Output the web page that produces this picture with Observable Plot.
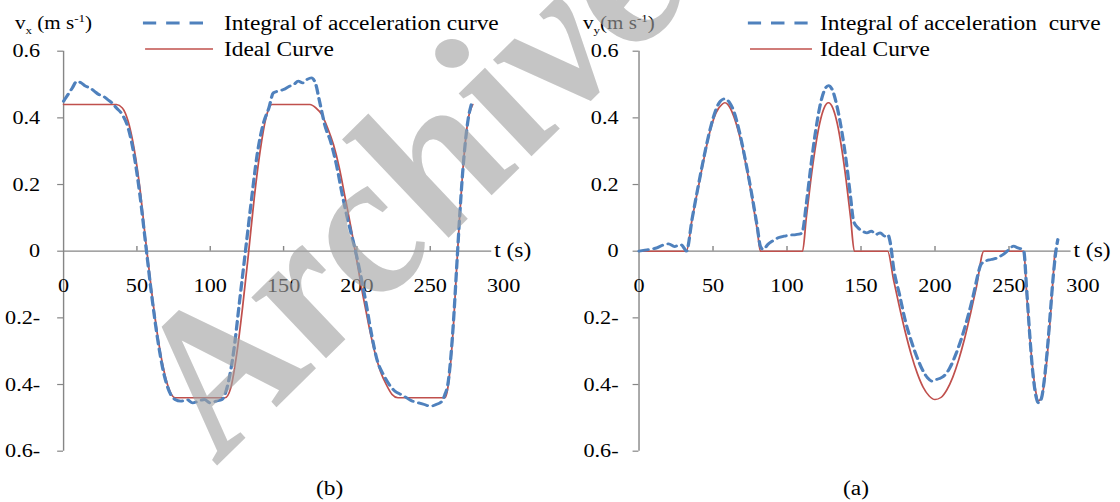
<!DOCTYPE html>
<html><head><meta charset="utf-8">
<script src="https://cdn.jsdelivr.net/npm/d3@7"></script>
<script src="https://cdn.jsdelivr.net/npm/@observablehq/plot@0.6"></script>
<style>
html,body{margin:0;padding:0;background:#fff;}
#page{position:relative;width:1120px;height:502px;overflow:hidden;background:#fff;}
#inner{position:absolute;left:0;top:0;transform-origin:0 0;font-family:"Liberation Serif","Times New Roman",serif;color:#000;}
.abs{position:absolute;white-space:pre;line-height:1;}
.abs sub,.abs sup{font-size:62%;line-height:0;}
</style></head><body>
<div id="page"><div id="inner"></div></div>
<script>
// ---------- data ----------
const xTicks = [0, 50, 100, 150, 200, 250, 300];
const yTicks = [0.6, 0.4, 0.2, 0, -0.2, -0.4, -0.6];
const yTickLabels = ["0.6", "0.4", "0.2", "0", "0.2-", "0.4-", "0.6-"];
const xAxisEnd = 292;

// panel (b): v_x
const vxIdeal = [[0,0.44],[36,0.44],[40,0.43],[44,0.39],[48,0.31],[52,0.19],[56,0.03],[60,-0.12],[64,-0.25],[68,-0.35],[72,-0.415],[76,-0.44],[110,-0.44],[114,-0.41],[118,-0.31],[122,-0.17],[126,-0.01],[130,0.16],[134,0.30],[138,0.40],[142,0.44],[168,0.44],[172,0.43],[176,0.41],[180,0.37],[184,0.32],[188,0.25],[192,0.16],[196,0.07],[200,-0.03],[204,-0.13],[208,-0.22],[212,-0.30],[216,-0.36],[220,-0.40],[224,-0.43],[228,-0.44],[260,-0.44],[262,-0.41],[264,-0.33],[266,-0.21],[268,-0.05],[270,0.10],[272,0.23],[274,0.33],[276,0.40],[278,0.43],[279,0.44]];
const vxIntegral = [[0,0.45],[3,0.47],[6,0.49],[9,0.51],[12,0.505],[15,0.495],[18,0.49],[21,0.48],[24,0.47],[27,0.465],[30,0.455],[33,0.445],[36,0.43],[40,0.41],[44,0.37],[48,0.29],[52,0.17],[56,0.02],[60,-0.13],[64,-0.26],[68,-0.36],[72,-0.42],[76,-0.445],[80,-0.45],[84,-0.445],[88,-0.455],[92,-0.45],[96,-0.445],[100,-0.455],[104,-0.45],[108,-0.445],[112,-0.40],[116,-0.30],[120,-0.15],[124,0.0],[128,0.15],[132,0.29],[136,0.38],[140,0.43],[143,0.475],[146,0.48],[150,0.485],[154,0.495],[157,0.50],[160,0.51],[163,0.505],[166,0.515],[169,0.52],[172,0.50],[174,0.46],[176,0.42],[178,0.38],[182,0.33],[186,0.26],[190,0.17],[194,0.09],[198,0.02],[202,-0.06],[206,-0.15],[210,-0.25],[214,-0.33],[218,-0.37],[222,-0.40],[226,-0.42],[230,-0.43],[234,-0.44],[238,-0.45],[242,-0.455],[246,-0.46],[250,-0.465],[254,-0.46],[258,-0.45],[260,-0.43],[262,-0.40],[264,-0.32],[266,-0.20],[268,-0.05],[270,0.10],[272,0.23],[274,0.33],[276,0.40],[278,0.44]];

// panel (a): v_y
const vyIdeal = [[0,0],[32,0],[36,0.10],[40,0.19],[44,0.28],[48,0.36],[52,0.415],[56,0.44],[58,0.445],[60,0.44],[64,0.405],[68,0.345],[72,0.265],[76,0.17],[80,0.06],[82,0],[110.5,0],[113,0.099],[116,0.211],[119,0.307],[122,0.382],[125,0.429],[128,0.445],[131,0.429],[134,0.382],[137,0.307],[140,0.211],[143,0.099],[145.5,0],[168,0],[172,-0.086],[176,-0.168],[180,-0.244],[184,-0.311],[188,-0.366],[192,-0.408],[196,-0.434],[200,-0.445],[204,-0.439],[208,-0.416],[212,-0.378],[216,-0.326],[220,-0.262],[224,-0.187],[228,-0.107],[233,0],[260,0],[262,-0.133],[264,-0.253],[266,-0.352],[268,-0.419],[270,-0.449],[272,-0.439],[274,-0.39],[276,-0.306],[278,-0.195],[280,-0.067],[281,0]];
const vyIntegral = [[0,0],[4,0.003],[8,0.006],[12,0.01],[16,0.018],[20,0.022],[24,0.014],[28,0.02],[31,0.006],[32,0],[36,0.10],[40,0.195],[44,0.285],[48,0.365],[52,0.425],[55,0.45],[58,0.457],[61,0.447],[64,0.42],[68,0.355],[72,0.27],[76,0.175],[80,0.07],[82,0.015],[84,0.005],[87,0.02],[90,0.03],[94,0.04],[98,0.045],[102,0.048],[106,0.05],[109,0.052],[110.5,0.06],[113,0.14],[116,0.25],[119,0.35],[122,0.43],[125,0.48],[128,0.497],[131,0.48],[134,0.43],[137,0.36],[140,0.27],[143,0.16],[145,0.09],[148,0.07],[151,0.06],[154,0.055],[157,0.06],[160,0.05],[163,0.055],[166,0.045],[168,0.05],[170,0.02],[172,-0.05],[176,-0.13],[180,-0.21],[184,-0.27],[188,-0.32],[192,-0.36],[195,-0.38],[198,-0.39],[201,-0.385],[204,-0.38],[207,-0.37],[210,-0.35],[214,-0.31],[218,-0.26],[222,-0.20],[226,-0.13],[229,-0.07],[231,-0.04],[234,-0.03],[238,-0.025],[242,-0.02],[246,-0.01],[250,0.005],[253,0.015],[256,0.01],[259,0.005],[260,0],[262,-0.12],[264,-0.25],[266,-0.36],[268,-0.43],[270,-0.455],[272,-0.44],[274,-0.38],[276,-0.29],[278,-0.18],[280,-0.07],[282,0.01],[283,0.035]];

const legendDashed = "Integral of acceleration curve";
const legendDashedB = "Integral of acceleration  curve";
const legendIdeal = "Ideal Curve";

// ---------- layout / style ----------
const S = 1.17;                 // horizontal stretch of the original figure
const ix = v => v / S;
const FONT = '"Liberation Serif","Times New Roman",serif';
const RED = "#c0504d", BLUE = "#4f81bd", AXIS = "#868686";
const inner = document.getElementById("inner");
inner.style.width = ix(1120) + "px";
inner.style.height = "502px";
inner.style.transform = `scale(${S},1)`;

const labelMap = new Map(yTicks.map((d, i) => [d, yTickLabels[i]]));

function panel(ideal, integral, left, ml, mr, pad) {
  const W = ix(560);
  const svg = Plot.plot({
    width: W, height: 502,
    marginLeft: ix(ml), marginRight: ix(mr), marginTop: 50.7, marginBottom: 51.3,
    x: {domain: [0, 300], axis: null},
    y: {domain: [-0.6, 0.6], axis: null},
    style: {fontFamily: FONT, fontSize: "19px", color: "#000", background: "transparent", overflow: "visible"},
    marks: [
      Plot.ruleX([0], {y1: -0.6, y2: 0.6, stroke: AXIS, strokeWidth: 1.2}),
      Plot.ruleY([0], {x1: 0, x2: xAxisEnd, stroke: AXIS, strokeWidth: 1.2}),
      Plot.ruleX(xTicks.filter(t => t > 0 && t < xAxisEnd), {x: d => d, y1: 0, y2: 0.014, stroke: AXIS, strokeWidth: 1.2}),
      Plot.axisY(yTicks, {anchor: "left", tickSize: 5, tickPadding: pad, stroke: AXIS, strokeWidth: 1.2, tickFormat: d => labelMap.get(d), fontSize: 19}),
      Plot.text(xTicks, {x: d => d, y: 0, dy: 35, text: d => String(d), fontSize: 19, fill: "#000"}),
      Plot.text(["t (s)"], {x: xAxisEnd, y: 0, dx: 2, dy: -1, text: d => d, textAnchor: "start", fontSize: 20, fill: "#000"}),
      Plot.line(ideal, {x: d => d[0], y: d => d[1], stroke: RED, strokeWidth: 1.5, curve: "monotone-x"}),
      Plot.line(integral, {x: d => d[0], y: d => d[1], stroke: BLUE, strokeWidth: 2.8, strokeDasharray: "8,5", curve: "monotone-x"})
    ]
  });
  svg.style.position = "absolute";
  svg.style.top = "0px";
  svg.style.left = ix(left) + "px";
  inner.appendChild(svg);
}

panel(vxIdeal, vxIntegral, 0, 63, 57, 15);
panel(vyIdeal, vyIntegral, 560, 78, 38, 12.5);

function addText(html, x, yc, size) {
  const d = document.createElement("div");
  d.className = "abs";
  d.innerHTML = html;
  d.style.left = ix(x) + "px";
  d.style.top = (yc - size * 0.5) + "px";
  d.style.fontSize = size + "px";
  inner.appendChild(d);
}
function addLine(x1, x2, y, color, width, dash) {
  const ns = "http://www.w3.org/2000/svg";
  const s = document.createElementNS(ns, "svg");
  const w = ix(x2 - x1);
  s.setAttribute("width", w); s.setAttribute("height", 10);
  s.style.position = "absolute"; s.style.left = ix(x1) + "px"; s.style.top = (y - 5) + "px";
  const l = document.createElementNS(ns, "line");
  l.setAttribute("x1", 0); l.setAttribute("x2", w); l.setAttribute("y1", 5); l.setAttribute("y2", 5);
  l.setAttribute("stroke", color); l.setAttribute("stroke-width", width);
  if (dash) l.setAttribute("stroke-dasharray", dash);
  s.appendChild(l);
  inner.appendChild(s);
}

// axis titles
addText("v<sub>x</sub> (m s<sup>-1</sup>)", 15, 23, 18);
addText("v<sub>y</sub>(m s<sup>-1</sup>)", 583, 23, 18);

// legends
addLine(143, 206, 23, BLUE, 3, "11.5,8.5");
addText(legendDashed, 224, 23, 20);
addLine(145, 213, 49, RED, 1.5);
addText(legendIdeal, 224, 49, 20);

addLine(748, 808, 23, BLUE, 3, "11.5,8.5");
addText(legendDashedB, 820, 23, 20);
addLine(750, 812, 49, RED, 1.5);
addText(legendIdeal, 820, 49, 20);

// captions
addText("(b)", 316, 488, 20);
addText("(a)", 843, 488, 20);

// watermark
(function () {
  const ns = "http://www.w3.org/2000/svg";
  const s = document.createElementNS(ns, "svg");
  s.setAttribute("width", ix(1120)); s.setAttribute("height", 502);
  s.style.position = "absolute"; s.style.left = "0px"; s.style.top = "0px";
  const t = document.createElementNS(ns, "text");
  const cx = ix(405), cy = 182;
  t.setAttribute("x", cx); t.setAttribute("y", cy);
  t.setAttribute("text-anchor", "middle");
  t.setAttribute("dominant-baseline", "central");
  t.setAttribute("transform", `rotate(-49 ${cx} ${cy})`);
  t.setAttribute("font-family", FONT);
  t.setAttribute("font-weight", "bold");
  t.setAttribute("font-style", "italic");
  t.setAttribute("font-size", 192);
  t.setAttribute("fill", "#a2a2a2");
  t.setAttribute("fill-opacity", 0.62);
  t.textContent = "Archive";
  s.appendChild(t);
  inner.appendChild(s);
})();
</script>
</body></html>
